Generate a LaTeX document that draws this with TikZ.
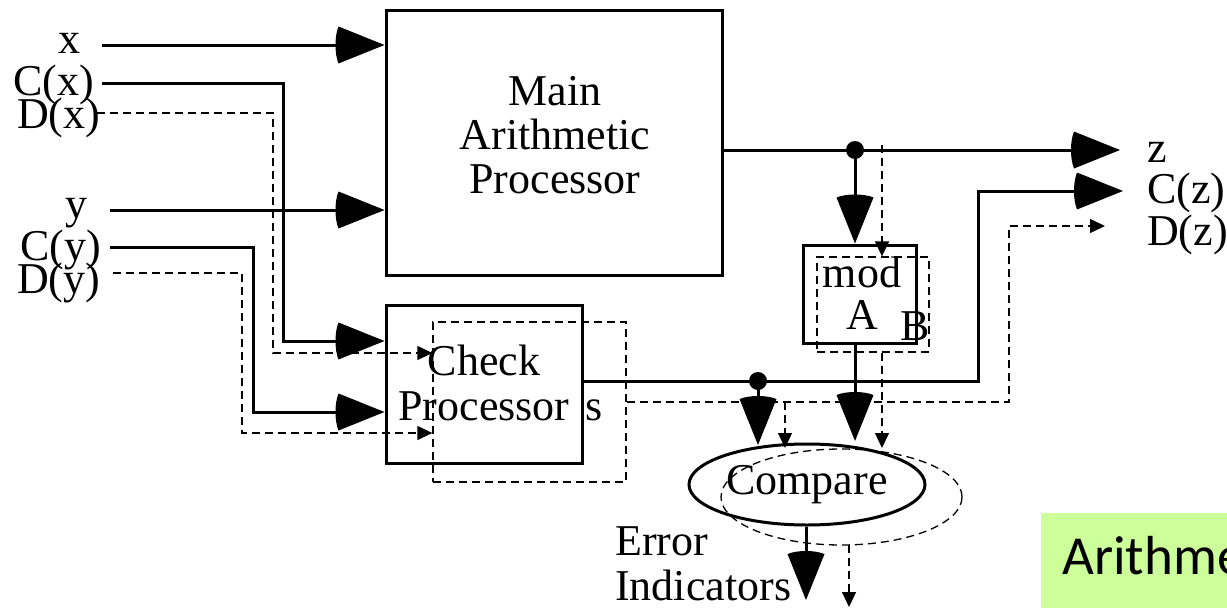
\documentclass[tikz,border=0pt]{standalone}
\usepackage{fontspec}
\setmainfont{Liberation Serif}
\newfontfamily\notefont{Carlito}
\usetikzlibrary{arrows.meta,shapes.geometric}

\pgfdeclarearrow{
  name = BigHead,
  setup code = {
    \pgfarrowssettipend{0pt}
    \pgfarrowssetlineend{-40pt}
    \pgfarrowssetbackend{-51pt}
    \pgfarrowssetvisualbackend{-51pt}
    \pgfarrowshullpoint{0pt}{0pt}
    \pgfarrowshullpoint{-46pt}{18.5pt}
    \pgfarrowshullpoint{-46pt}{-18.5pt}
    \pgfarrowshullpoint{-51pt}{0pt}
  },
  drawing code = {
    \pgfpathmoveto{\pgfqpoint{0pt}{0pt}}
    \pgfpathlineto{\pgfqpoint{-46pt}{18.5pt}}
    \pgfpathcurveto{\pgfqpoint{-50pt}{9pt}}{\pgfqpoint{-50pt}{-9pt}}{\pgfqpoint{-46pt}{-18.5pt}}
    \pgfpathclose
    \pgfusepathqfill
  },
}

\definecolor{notegreen}{RGB}{204,255,153}

\tikzset{
  wire/.style={line width=3pt},
  dwire/.style={line width=1.3pt, dash pattern=on 8pt off 5pt},
  bigtip/.style={-{BigHead}},
  smalltip/.style={-{Triangle[length=15pt,width=14pt]}},
  box/.style={draw, line width=3pt, inner sep=0pt},
  dbox/.style={draw, dwire, inner sep=0pt},
  lbl/.style={font=\fontsize{44pt}{44pt}\selectfont, inner sep=0pt, anchor=base west},
  txt/.style={font=\fontsize{44pt}{44pt}\selectfont, inner sep=0pt, align=center},
}

\begin{document}
\begin{tikzpicture}[x=1pt,y=-1pt]
\useasboundingbox (0,0) rectangle (1227,608);

% note box (clipped at picture edge)
\begin{scope}
  \clip (0,0) rectangle (1227,608);
  \fill[notegreen] (1041,513) rectangle (1240,620);
  \node[font=\notefont\fontsize{55pt}{60pt}\selectfont, anchor=base west, inner sep=0pt] (note) at (1062,574) {Arithme};
\end{scope}

% blocks
\node[box, minimum width=336pt, minimum height=265pt] (main) at (554,142.5) {};
\node[txt] (maintxt) at (555,135) {Main\\Arithmetic\\Processor};

\node[dbox, minimum width=193pt, minimum height=160pt] (checkB) at (529.5,402) {};
\node[box, minimum width=196pt, minimum height=158pt] (check) at (484,384) {};
\node[txt, font=\fontsize{44pt}{45pt}\selectfont] (checktxt) at (484,383) {Check\\Processor};
\node[lbl] (s) at (585,420) {s};

\node[dbox, minimum width=112pt, minimum height=95pt] (modB) at (873,304.5) {};
\node[box, minimum width=113pt, minimum height=98pt] (mod) at (859.5,294) {};
\node[txt, font=\fontsize{44pt}{42pt}\selectfont] (modtxt) at (862,293) {mod\\A};
\node[lbl] (B) at (900,340) {B};

\node[ellipse, draw, dwire, minimum width=241pt, minimum height=96pt, inner sep=0pt] (cmpB) at (841.5,497) {};
\node[ellipse, draw, line width=3pt, minimum width=236pt, minimum height=81pt, inner sep=0pt,
      font=\fontsize{44pt}{44pt}\selectfont] (cmp) at (807,484.5) {Compare};

% left labels
\node[lbl] (lx)  at (58,53)  {x};
\node[lbl] (lcx) at (13,95)  {C(x)};
\node[lbl] (ldx) at (17,128) {D(x)};
\node[lbl] (ly)  at (65,218) {y};
\node[lbl] (lcy) at (20,260) {C(y)};
\node[lbl] (ldy) at (17,293) {D(y)};

% right labels
\node[lbl] (lz)  at (1147,162) {z};
\node[lbl] (lcz) at (1147,203) {C(z)};
\node[lbl] (ldz) at (1147,245) {D(z)};

% error label
\node[lbl] (err1) at (615,555) {Error};
\node[lbl] (err2) at (615,600) {Indicators};

% coordinates
\coordinate (xs)   at (102,45);
\coordinate (cxs)  at (102,83);
\coordinate (cxv)  at (283,341);
\coordinate (dxs)  at (97,113);
\coordinate (dxv)  at (273,353);
\coordinate (ys)   at (110,210);
\coordinate (cys)  at (110,247);
\coordinate (cyv)  at (253,412);
\coordinate (dys)  at (113,273);
\coordinate (dyv)  at (242,433);
\coordinate (zdot) at (855,150);
\coordinate (zend) at (1120,150);
\coordinate (dzs)  at (882,145);
\coordinate (cdot) at (758,381);
\coordinate (cturn) at (978,381);
\coordinate (czend) at (1123,191);
\coordinate (dturn) at (1009,402);
\coordinate (dzend) at (1105,226);
\coordinate (dbr)  at (785,402);
\coordinate (cin1) at (758,445);
\coordinate (cin2) at (855,441);
\coordinate (din1) at (785,448);
\coordinate (din2) at (882,448);
\coordinate (eout) at (806,600);
\coordinate (dout1) at (849,545);
\coordinate (dout2) at (849,607);

% input connectors
\draw[wire, bigtip] (xs) -- (xs -| main.west);
\draw[wire, bigtip] (ys) -- (ys -| main.west);
\draw[wire, bigtip] (cxs) -| (cxv) -- (cxv -| check.west);
\draw[wire, bigtip] (cys) -| (cyv) -- (cyv -| check.west);
\draw[dwire, smalltip] (dxs) -| (dxv) -- (dxv -| checkB.west);
\draw[dwire, smalltip] (dys) -| (dyv) -- (dyv -| checkB.west);

% main output
\draw[wire, bigtip] (main.east |- zdot) -- (zend);
\draw[wire, bigtip] (zdot) -- (zdot |- mod.north);
\draw[dwire, smalltip] (dzs) -- (dzs |- modB.north);

% check output
\draw[wire, bigtip] (check.east |- cdot) -- (cturn) |- (czend);
\draw[wire, bigtip] (cdot) -- (cin1);
\draw[dwire, smalltip] (checkB.east |- dturn) -- (dturn) |- (dzend);
\draw[dwire, smalltip] (dbr) -- (din1);

% mod output
\draw[wire, bigtip] (zdot |- mod.south) -- (cin2);
\draw[dwire, smalltip] (dzs |- modB.south) -- (din2);

% compare output
\draw[wire, bigtip] (cmp.south -| eout) -- (eout);
\draw[dwire, smalltip] (dout1) -- (dout2);

% junction dots
\fill (zdot) circle (9pt);
\fill (cdot) circle (9pt);
\end{tikzpicture}
\end{document}
